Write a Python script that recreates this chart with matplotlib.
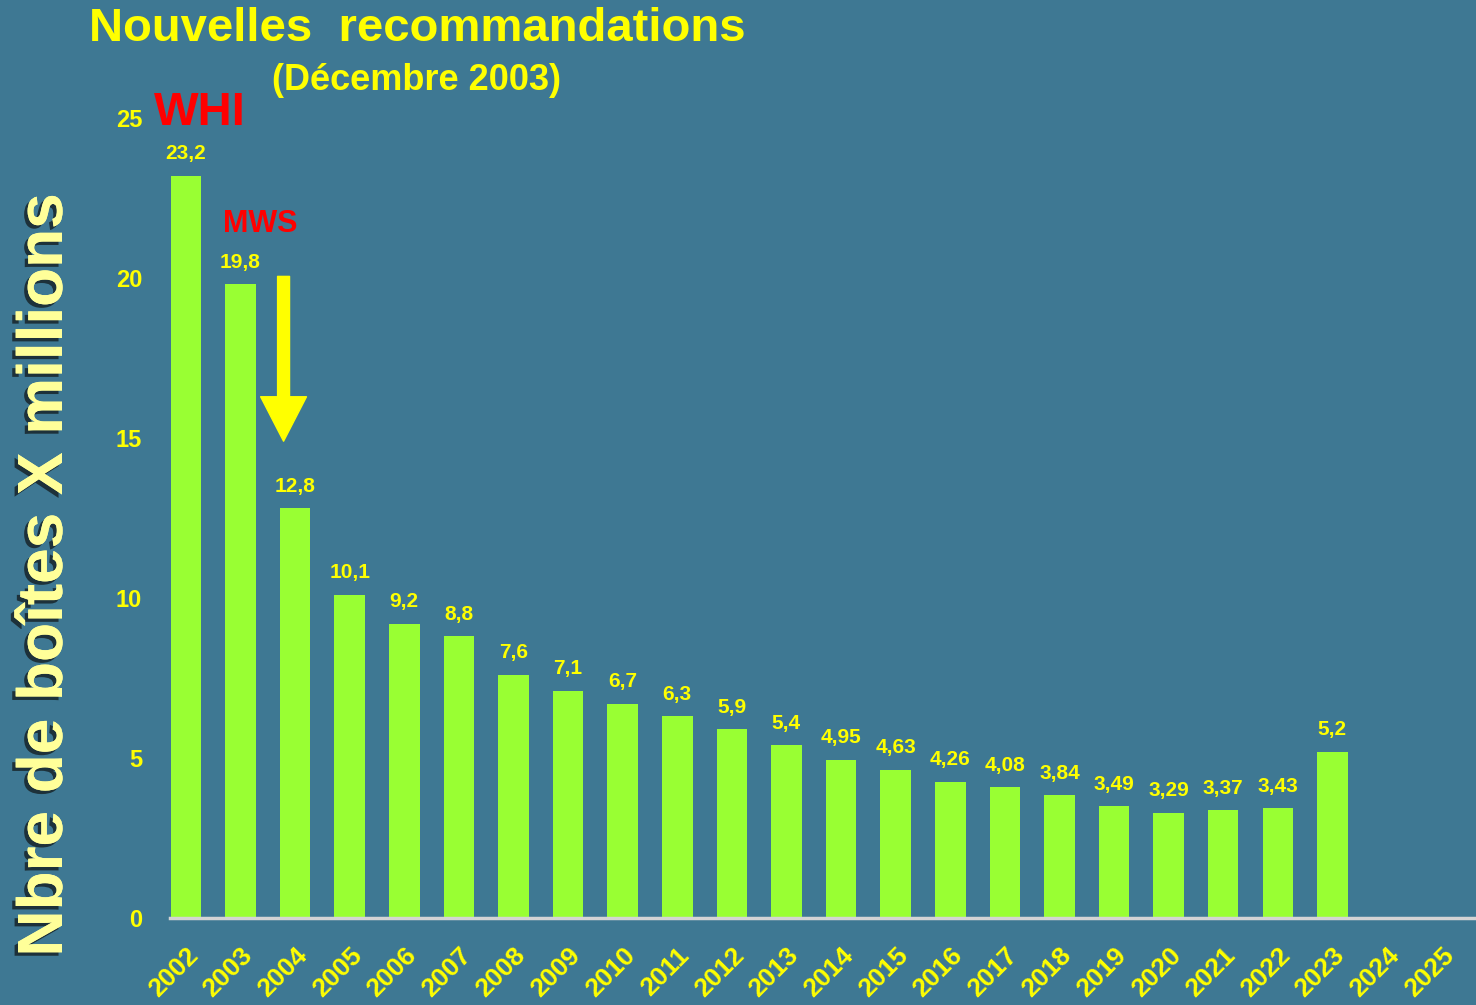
import matplotlib
matplotlib.use('Agg')
import numpy as np
from matplotlib import pyplot as plt
from matplotlib import patheffects
from matplotlib.patches import FancyArrowPatch, ArrowStyle

years = [str(y) for y in range(2002, 2026)]
values = [23.2, 19.8, 12.8, 10.1, 9.2, 8.8, 7.6, 7.1, 6.7, 6.3, 5.9, 5.4,
          4.95, 4.63, 4.26, 4.08, 3.84, 3.49, 3.29, 3.37, 3.43, 5.2]
value_labels = ['23,2', '19,8', '12,8', '10,1', '9,2', '8,8', '7,6', '7,1',
                '6,7', '6,3', '5,9', '5,4', '4,95', '4,63', '4,26', '4,08',
                '3,84', '3,49', '3,29', '3,37', '3,43', '5,2']
y_ticks = [0, 5, 10, 15, 20, 25]

BG = '#3e7893'
BAR = '#99ff33'
YELLOW = '#ffff00'


def pre_config():
    plt.rcParams['font.family'] = ['Liberation Sans', 'DejaVu Sans']
    plt.rcParams['font.weight'] = 'bold'


def bar_plot():
    fig = plt.figure(figsize=(14.76, 10.05), dpi=100, facecolor=BG)
    ax = fig.add_axes([170 / 1476, 87 / 1005, 1306 / 1476, 800 / 1005])
    ax.set_facecolor(BG)

    x = np.arange(len(values))
    ax.bar(x, values, width=0.56, color=BAR, zorder=2)
    for xi, v, lab in zip(x, values, value_labels):
        ax.annotate(lab, (xi, v), xytext=(0, 9), textcoords='offset points',
                    ha='center', va='bottom', color=YELLOW, fontsize=15,
                    fontweight='bold')

    ax.set_xlim(-0.29, 23.63)
    ax.set_ylim(0, 25)
    ax.set_xticks(np.arange(len(years)))
    ax.set_xticklabels(years, rotation=45, ha='right', va='top',
                       rotation_mode='anchor', color=YELLOW, fontsize=19,
                       fontweight='bold')
    ax.set_yticks(y_ticks)
    ax.set_yticklabels([str(t) for t in y_ticks], color=YELLOW, fontsize=17,
                       fontweight='bold')
    ax.tick_params(axis='both', length=0)
    ax.tick_params(axis='x', pad=18)
    ax.tick_params(axis='y', pad=20)
    for s in ['top', 'right', 'left']:
        ax.spines[s].set_visible(False)
    ax.spines['bottom'].set_color('#d4d4d4')
    ax.spines['bottom'].set_linewidth(2.5)
    ax.spines['bottom'].set_zorder(3)

    # annotations
    ax.text(0.26, 25.16, 'WHI', color='#ff0000', fontsize=34,
            fontweight='bold', ha='center', va='center', clip_on=False)
    ax.text(1.37, 21.7, 'MWS', color='#ff0000', fontsize=22,
            fontweight='bold', ha='center', va='center', clip_on=False)
    arrow = FancyArrowPatch((1.79, 20.05), (1.79, 14.9),
                            arrowstyle=ArrowStyle.Simple(head_length=32,
                                                         head_width=33,
                                                         tail_width=8.6),
                            color=YELLOW, shrinkA=0, shrinkB=0, zorder=4)
    ax.add_patch(arrow)

    fig.text(417 / 1476, 1 - 29 / 1005, 'Nouvelles  recommandations',
             color=YELLOW, fontsize=34, fontweight='bold', ha='center',
             va='center')
    fig.text(417 / 1476, 1 - 80 / 1005, '(Décembre 2003)', color=YELLOW,
             fontsize=26, fontweight='bold', ha='center', va='center')
    fig.text(45 / 1476, 1 - 575 / 1005, 'Nbre de boîtes X millions',
             color='#ffff99', fontsize=46, fontweight='bold', rotation=90,
             ha='center', va='center',
             path_effects=[patheffects.withSimplePatchShadow(
                 offset=(-2.5, -2.5), shadow_rgbFace='#1a2a30', alpha=0.9),
                 patheffects.Normal()])

    fig.savefig('out.png', dpi=100, facecolor=BG)


def main():
    pre_config()
    bar_plot()


if __name__ == '__main__':
    main()
